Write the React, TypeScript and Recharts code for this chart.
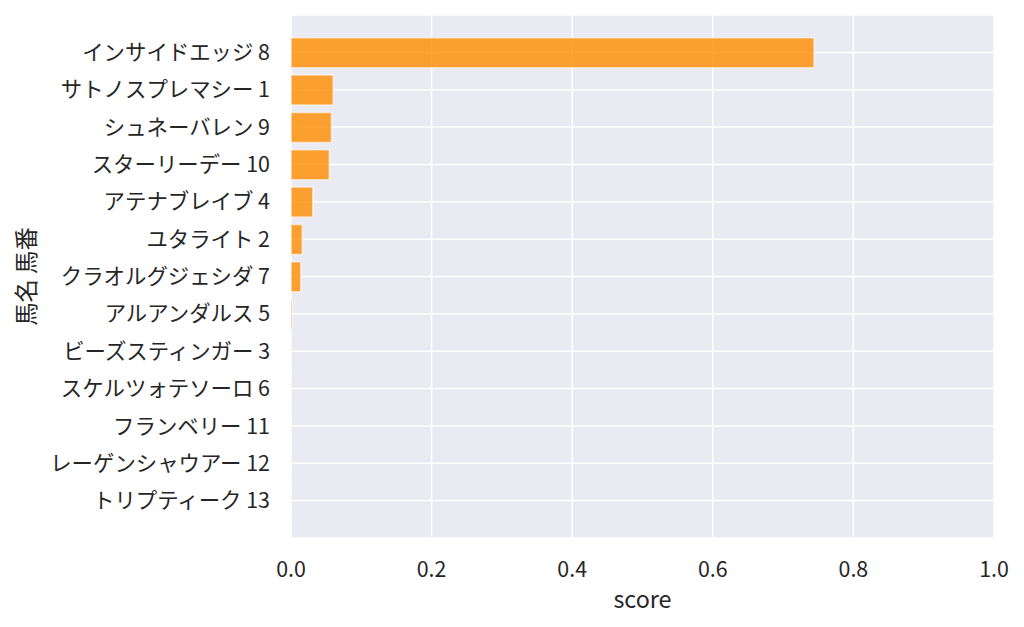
import React from 'react';
import { BarChart, Bar, XAxis, YAxis, CartesianGrid } from 'recharts';

// horses (name + gate number), top to bottom
const horseNames = [
  'インサイドエッジ',
  'サトノスプレマシー',
  'シュネーバレン',
  'スターリーデー',
  'アテナブレイブ',
  'ユタライト',
  'クラオルグジェシダ',
  'アルアンダルス',
  'ビーズスティンガー',
  'スケルツォテソーロ',
  'フランベリー',
  'レーゲンシャウアー',
  'トリプティーク',
];
const horseNumbers = [8, 1, 9, 10, 4, 2, 7, 5, 3, 6, 11, 12, 13];
const scores = [0.744, 0.06, 0.0575, 0.0545, 0.031, 0.016, 0.0138, 0.0015, 0.0004, 0.0003, 0.0002, 0.0002, 0.0001];
const xTicks = [0, 0.2, 0.4, 0.6, 0.8, 1.0];

const data = horseNames.map((n, i) => ({ label: `${n} ${horseNumbers[i]}`, score: scores[i] }));

const FONT = '"Noto Sans CJK JP", "Noto Sans", sans-serif';
const TEXT = '#262626';

const YLabel = (props: any) => {
  const vb = props.viewBox || {};
  const cy = (vb.y ?? 15) + (vb.height ?? 523) / 2;
  return (
    <text
      x={25}
      y={cy}
      transform={`rotate(-90, 25, ${cy})`}
      textAnchor="middle"
      dominantBaseline="central"
      fill={TEXT}
      fontSize={23.3}
      fontFamily={FONT}
    >
      馬名 馬番
    </text>
  );
};

export default function App() {
  return (
    <div style={{ position: 'absolute', left: 0, top: 0, width: 1024, height: 627, background: '#fff' }}>
      <BarChart
        width={1024}
        height={627}
        data={data}
        layout="vertical"
        margin={{ top: 15, right: 30, bottom: 0, left: 0 }}
        style={{ fontFamily: FONT }}
      >
        <CartesianGrid fill="#EAEAF2" stroke="#ffffff" strokeWidth={1.5} />
        <XAxis
          type="number"
          dataKey="score"
          domain={[0, 1]}
          ticks={xTicks}
          tickFormatter={(v: number) => v.toFixed(1)}
          axisLine={false}
          tickLine={false}
          tickSize={0}
          tickMargin={23.5}
          height={89}
          tick={{ fill: TEXT, fontSize: 21.4, fontFamily: FONT }}
          label={{ value: 'score', position: 'insideBottom', offset: 19, fill: TEXT, fontSize: 23.3, fontFamily: FONT }}
        />
        <YAxis
          type="category"
          dataKey="label"
          width={291}
          axisLine={false}
          tickLine={false}
          tickSize={0}
          tickMargin={21}
          interval={0}
          padding={{ top: 18.7, bottom: 18.7 }}
          tick={{ fill: TEXT, fontSize: 21.4, fontFamily: FONT }}
          label={<YLabel />}
        />
        <Bar
          dataKey="score"
          fill="#ff8c00"
          fillOpacity={0.8}
          stroke="#ffffff"
          strokeOpacity={0.6}
          strokeWidth={1.5}
          barSize={30}
          isAnimationActive={false}
        />
      </BarChart>
    </div>
  );
}
